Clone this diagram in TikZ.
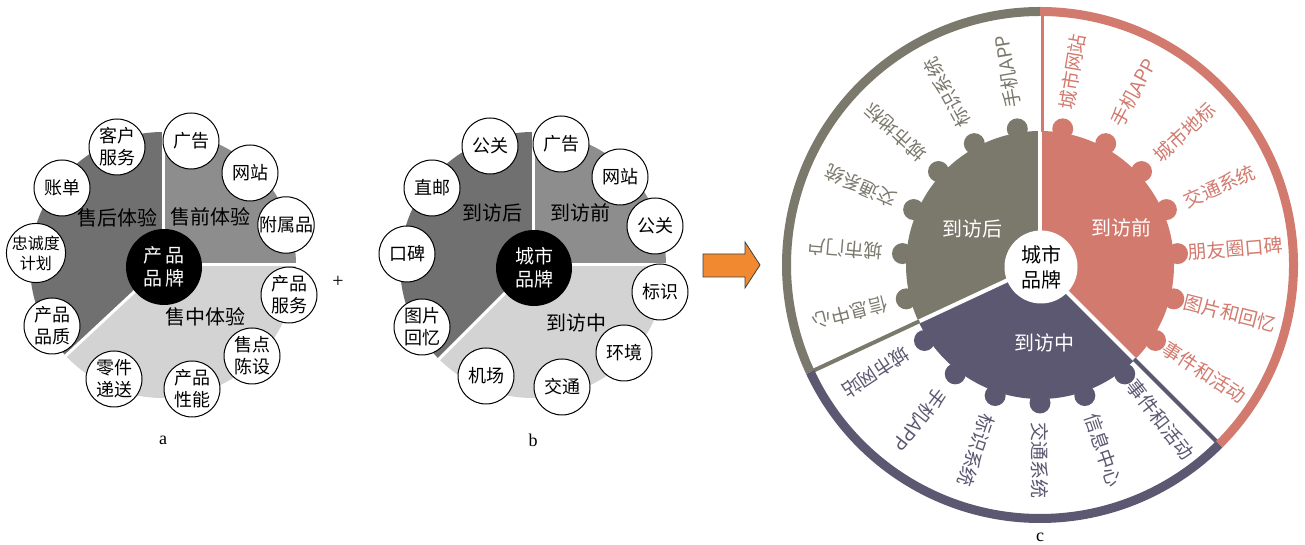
\documentclass[tikz,border=0pt]{standalone}
\usepackage{fontspec}
\setmainfont{Liberation Serif}
\newfontfamily\cjk{Noto Sans CJK SC}
\usetikzlibrary{calc}

\definecolor{pgray}{HTML}{7B786C}
\definecolor{ppink}{HTML}{D37A6F}
\definecolor{ppurple}{HTML}{5D5872}
\definecolor{darkg}{HTML}{707070}
\definecolor{midg}{HTML}{8D8D8D}
\definecolor{lightg}{HTML}{D3D3D3}
\definecolor{arroworange}{HTML}{F18931}

\begin{document}
\begin{tikzpicture}[x=1pt,y=1pt,
  bub/.style={circle,draw=black,line width=1pt,fill=white,minimum size=56pt,inner sep=0pt,align=center,font=\cjk\fontsize{18}{22}\selectfont},
  hub/.style={circle,fill=black,text=white,minimum size=76pt,inner sep=0pt,align=center,font=\cjk\fontsize{19}{23}\selectfont},
  seclab/.style={font=\cjk\fontsize{20}{24}\selectfont,inner sep=0pt},
  gap/.style={white,line width=3pt},
  ringlab/.style={font=\cjk\fontsize{19}{22}\selectfont,inner sep=0pt},
  caption/.style={font=\fontsize{18}{20}\selectfont,inner sep=0pt}]

\fill[white] (0,0) rectangle (1305,545);
\useasboundingbox (0,0) rectangle (1305,545);

% ---------------- panel a: product brand ----------------
\coordinate (A) at (163,280);
\fill[midg]   (A) -- ++(0:133)   arc[start angle=0,  end angle=90,  radius=133] -- cycle;
\fill[darkg]  (A) -- ++(90:133)  arc[start angle=90, end angle=223, radius=133] -- cycle;
\fill[lightg] (A) -- ++(223:133) arc[start angle=223,end angle=360, radius=133] -- cycle;
\draw[gap] (A) -- ++(0:136);
\draw[gap] (A) -- ++(90:136);
\draw[gap] (A) -- ++(223:136);

\node[hub] (hubA) at (164,278) {产\hspace{4pt}品\\品\hspace{4pt}牌};

\node[seclab] (a1) at (117,327) {售后体验};
\node[seclab] (a2) at (210,328) {售前体验};
\node[seclab] (a3) at (205,228) {售中体验};

\node[bub] (ka1)  at (117,398) {客户\\服务};
\node[bub] (ka2)  at (191,404) {广告};
\node[bub] (ka3)  at (250,372) {网站};
\node[bub] (ka4)  at (286,320) {附属品};
\node[bub] (ka5)  at (289,250) {产品\\服务};
\node[bub] (ka6)  at (252,189) {售点\\陈设};
\node[bub] (ka7)  at (192,156) {产品\\性能};
\node[bub] (ka8)  at (114,166) {零件\\递送};
\node[bub] (ka9)  at (52,219)  {产品\\品质};
\node[bub,font=\cjk\fontsize{16}{20}\selectfont] (ka10) at (36,292) {忠诚度\\计划};
\node[bub] (ka11) at (62,357)  {账单};

\node[caption,font=\fontsize{20}{22}\selectfont] (plus) at (338,263) {+};
\node[caption] (capa) at (163,105) {a};

% ---------------- panel b: city brand ----------------
\coordinate (B) at (533,280);
\fill[midg]   (B) -- ++(0:133)   arc[start angle=0,  end angle=90,  radius=133] -- cycle;
\fill[darkg]  (B) -- ++(90:133)  arc[start angle=90, end angle=225, radius=133] -- cycle;
\fill[lightg] (B) -- ++(225:133) arc[start angle=225,end angle=360, radius=133] -- cycle;
\draw[gap] (B) -- ++(0:136);
\draw[gap] (B) -- ++(90:136);
\draw[gap] (B) -- ++(225:136);

\node[hub] (hubB) at (534,277) {城市\\品牌};

\node[seclab] (b1) at (492,332) {到访后};
\node[seclab] (b2) at (580,332) {到访前};
\node[seclab] (b3) at (576,222) {到访中};

\node[bub] (kb1)  at (490,399) {公关};
\node[bub] (kb2)  at (561,401) {广告};
\node[bub] (kb3)  at (620,368) {网站};
\node[bub] (kb4)  at (655,319) {公关};
\node[bub] (kb5)  at (660,253) {标识};
\node[bub] (kb6)  at (624,192) {环境};
\node[bub] (kb7)  at (562,158) {交通};
\node[bub] (kb8)  at (486,169) {机场};
\node[bub] (kb9)  at (422,218) {图片\\回忆};
\node[bub] (kb10) at (407,291) {口碑};
\node[bub] (kb11) at (432,357) {直邮};

\node[caption] (capb) at (533,105) {b};

% ---------------- block arrow ----------------
\draw[fill=arroworange,draw=black!75,line width=0.8pt]
  (703,268) -- (745,268) -- (745,257) -- (760,280) -- (745,303) -- (745,291) -- (703,291) -- cycle;

% ---------------- panel c: visit wheel ----------------
\coordinate (C) at (1040,280);

% gear sectors with rounded teeth
\fill[pgray]   (C) -- ++(90:134)  arc[start angle=90, end angle=205, radius=134] -- cycle;
\fill[ppurple] (C) -- ++(205:134) arc[start angle=205,end angle=315, radius=134] -- cycle;
\fill[ppink]   (C) -- ++(-45:134) arc[start angle=-45,end angle=90,  radius=134] -- cycle;
\foreach \k in {0,...,5}   \fill[pgray]   (C) ++({99.47+\k*18.947}:138) circle[radius=10.5];
\foreach \k in {6,...,11}  \fill[ppurple] (C) ++({99.47+\k*18.947}:138) circle[radius=10.5];
\foreach \k in {12,...,18} \fill[ppink]   (C) ++({99.47+\k*18.947}:138) circle[radius=10.5];
\draw[white,line width=4pt] (C) -- ++(90:135);
\draw[white,line width=4pt] (C) -- ++(-45:135);
\draw[white,line width=4pt] (C) -- ++(205:135);

% radial separators in the outer band
\draw[ppink,line width=3.5pt]   (1042.5,413) -- (1042.5,532);
\draw[ppurple,line width=4pt]   (C) ++(-45:133) -- ++(-45:119);
\draw[pgray,line width=4pt]     (C) ++(205:133) -- ++(205:119);

% outer ring
\draw[pgray,line width=9pt]   (C) ++(90:253.5)  arc[start angle=90, end angle=205, radius=253.5];
\draw[ppurple,line width=9pt] (C) ++(205:253.5) arc[start angle=205,end angle=315, radius=253.5];
\draw[ppink,line width=9pt]   (C) ++(-45:253.5) arc[start angle=-45,end angle=90,  radius=253.5];

% hub and sector titles
\node[circle,fill=white,minimum size=73pt,inner sep=0pt,align=center,font=\cjk\fontsize{20}{25}\selectfont] (hubC) at (1041,278) {城市\\品牌};
\node[seclab,text=white] (c1) at (972,316)  {到访后};
\node[seclab,text=white] (c2) at (1121,317) {到访前};
\node[seclab,text=white] (c3) at (1044,202) {到访中};

% radial labels
\foreach \a/\t [count=\i] in {99.47/手机APP,118.42/标识系统,137.37/城市地标,156.31/交通系统,175.26/城市门户,194.21/信息中心}
  \node[ringlab,text=pgray,rotate=\a] (g\i) at ($(C)+(\a:196)$) {\t};
\foreach \a/\t [count=\i] in {213.15/城市网站,232.1/手机APP,251.05/标识系统,270/交通系统,288.95/信息中心,307.9/事件和活动}
  \node[ringlab,text=ppurple,rotate=\a] (u\i) at ($(C)+(\a:196)$) {\t};
\foreach \a/\t [count=\i] in {326.84/事件和活动,345.79/图片和回忆,364.73/朋友圈口碑,383.68/交通系统,402.63/城市地标,421.58/手机APP,440.52/城市网站}
  \node[ringlab,text=ppink,rotate=\a] (p\i) at ($(C)+(\a:196)$) {\t};

\node[caption] (capc) at (1040,8) {c};
\end{tikzpicture}
\end{document}
